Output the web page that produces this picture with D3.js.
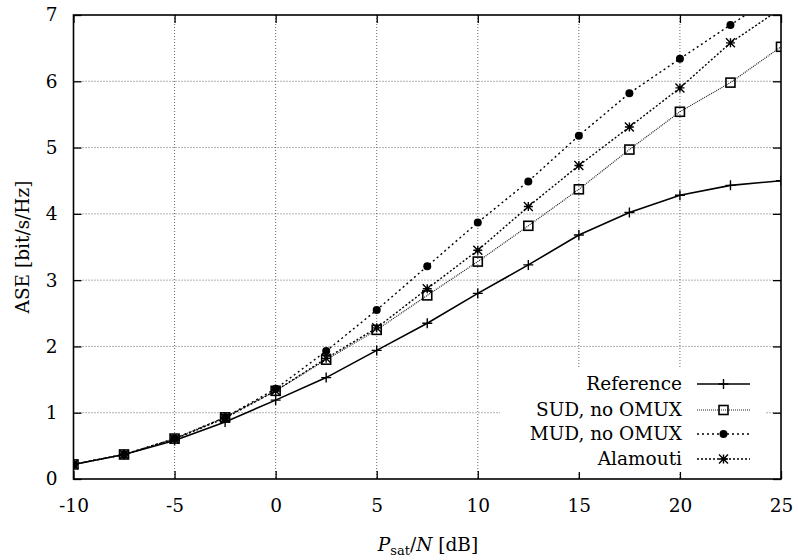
<!DOCTYPE html>
<html><head><meta charset="utf-8">
<script src="https://cdn.jsdelivr.net/npm/d3@7"></script>
<style>body{margin:0;background:#fff}svg{display:block}</style>
</head><body>
<svg id="c" width="798" height="560"></svg>
<script>
const xVals = [-10, -7.5, -5, -2.5, 0, 2.5, 5, 7.5, 10, 12.5, 15, 17.5, 20, 22.5, 25];
const reference = [0.22, 0.37, 0.58, 0.86, 1.19, 1.53, 1.94, 2.35, 2.80, 3.23, 3.68, 4.02, 4.28, 4.43, 4.50];
const sud = [0.22, 0.37, 0.61, 0.93, 1.33, 1.80, 2.25, 2.77, 3.28, 3.82, 4.37, 4.97, 5.54, 5.98, 6.52];
const mud = [0.22, 0.37, 0.61, 0.93, 1.36, 1.93, 2.55, 3.21, 3.87, 4.49, 5.18, 5.82, 6.34, 6.85, 7.35];
const alamouti = [0.22, 0.37, 0.60, 0.92, 1.33, 1.82, 2.28, 2.87, 3.45, 4.11, 4.73, 5.31, 5.90, 6.58, 7.10];
const xTicks = [-10, -5, 0, 5, 10, 15, 20, 25];
const yTicks = [0, 1, 2, 3, 4, 5, 6, 7];
const seriesNames = ["Reference", "SUD, no OMUX", "MUD, no OMUX", "Alamouti"];

const FONT = "DejaVu Serif, serif";
const FS = 18.5;
const L = 73.5, R = 781, T = 15, B = 479;
const svg = d3.select("#c");
const x = d3.scaleLinear().domain([-10, 25]).range([L, R]);
const y = d3.scaleLinear().domain([0, 7]).range([B, T]);
const fmt = v => String(v);

svg.append("defs").append("clipPath").attr("id", "clip")
  .append("rect").attr("x", L).attr("y", T).attr("width", R - L).attr("height", B - T);

// grid
const grid = svg.append("g").attr("stroke", "#666").attr("stroke-width", 1).attr("stroke-dasharray", "1,2");
xTicks.slice(1, -1).forEach(v => grid.append("line").attr("x1", x(v)).attr("x2", x(v)).attr("y1", T).attr("y2", B));
yTicks.slice(1, -1).forEach(v => grid.append("line").attr("x1", L).attr("x2", R).attr("y1", y(v)).attr("y2", y(v)));

// axes with inward ticks
const axB = svg.append("g").attr("transform", `translate(0,${B})`).call(d3.axisBottom(x).tickValues(xTicks).tickSizeInner(-8).tickSizeOuter(0).tickPadding(20).tickFormat(fmt));
const axT = svg.append("g").attr("transform", `translate(0,${T})`).call(d3.axisTop(x).tickValues(xTicks).tickSizeInner(-8).tickSizeOuter(0).tickFormat(""));
const axL = svg.append("g").attr("transform", `translate(${L},0)`).call(d3.axisLeft(y).tickValues(yTicks).tickSizeInner(-8).tickSizeOuter(0).tickPadding(16).tickFormat(fmt));
const axR = svg.append("g").attr("transform", `translate(${R},0)`).call(d3.axisRight(y).tickValues(yTicks).tickSizeInner(-8).tickSizeOuter(0).tickFormat(""));
[axB, axT, axL, axR].forEach(a => {
  a.select(".domain").remove();
  a.selectAll("line").attr("stroke", "#000").attr("stroke-width", 1.3);
  a.selectAll("text").attr("font-family", FONT).attr("font-size", FS).attr("fill", "#000");
});

const styles = [
  {dash: null, width: 1.6, color: "#000", marker: "plus"},
  {dash: "1,1", width: 1.2, color: "#222", marker: "square"},
  {dash: "2,3", width: 1.4, color: "#000", marker: "circle"},
  {dash: "2,2", width: 1.4, color: "#000", marker: "star"}
];
const data = [reference, sud, mud, alamouti];

function drawMarker(g, type, cx, cy) {
  if (type === "plus") {
    g.append("path").attr("d", `M${cx-5},${cy}H${cx+5}M${cx},${cy-5}V${cy+5}`).attr("stroke", "#000").attr("stroke-width", 1.4).attr("fill", "none");
  } else if (type === "square") {
    g.append("rect").attr("x", cx-4.5).attr("y", cy-4.5).attr("width", 9).attr("height", 9).attr("fill", "none").attr("stroke", "#000").attr("stroke-width", 1.6);
  } else if (type === "circle") {
    g.append("circle").attr("cx", cx).attr("cy", cy).attr("r", 4).attr("fill", "#000");
  } else if (type === "star") {
    const s = 4.5;
    g.append("path").attr("d", `M${cx-s},${cy}H${cx+s}M${cx},${cy-s}V${cy+s}M${cx-s},${cy-s}L${cx+s},${cy+s}M${cx-s},${cy+s}L${cx+s},${cy-s}`).attr("stroke", "#000").attr("stroke-width", 1.4).attr("fill", "none");
  }
}

const plot = svg.append("g").attr("clip-path", "url(#clip)");
const line = d3.line().x(d => x(d[0])).y(d => y(d[1]));
[1, 2, 3, 0].forEach(i => {
  const pts = xVals.map((v, k) => [v, data[i][k]]);
  plot.append("path").attr("d", line(pts)).attr("fill", "none")
    .attr("stroke", styles[i].color).attr("stroke-width", styles[i].width)
    .attr("stroke-dasharray", styles[i].dash);
  const mg = plot.append("g");
  pts.forEach(p => drawMarker(mg, styles[i].marker, x(p[0]), y(p[1])));
});

// legend
const lg = svg.append("g");
lg.append("rect").attr("x", 500).attr("y", 368).attr("width", 266).attr("height", 104).attr("fill", "#fff");
const rowY = [384, 410, 434, 459];
seriesNames.forEach((n, i) => {
  lg.append("text").attr("x", 682).attr("y", rowY[i] + 6).attr("text-anchor", "end")
    .attr("font-family", FONT).attr("font-size", FS).text(n);
  lg.append("line").attr("x1", 697).attr("x2", 750).attr("y1", rowY[i]).attr("y2", rowY[i])
    .attr("stroke", styles[i].color).attr("stroke-width", styles[i].width).attr("stroke-dasharray", styles[i].dash);
  drawMarker(lg, styles[i].marker, 723.5, rowY[i]);
});

// border
svg.append("rect").attr("x", L).attr("y", T).attr("width", R - L).attr("height", B - T)
  .attr("fill", "none").attr("stroke", "#000").attr("stroke-width", 1.6);

// axis titles
svg.append("text").attr("transform", `translate(29,247) rotate(-90)`).attr("text-anchor", "middle")
  .attr("font-family", FONT).attr("font-size", FS).text("ASE [bit/s/Hz]");
const xt = svg.append("text").attr("x", 428).attr("y", 551).attr("text-anchor", "middle")
  .attr("font-family", FONT).attr("font-size", FS);
xt.append("tspan").attr("font-style", "italic").text("P");
xt.append("tspan").attr("font-size", 13).attr("dy", 4).text("sat");
xt.append("tspan").attr("dy", -4).text("/");
xt.append("tspan").attr("font-style", "italic").text("N");
xt.append("tspan").text(" [dB]");
</script>
</body></html>
